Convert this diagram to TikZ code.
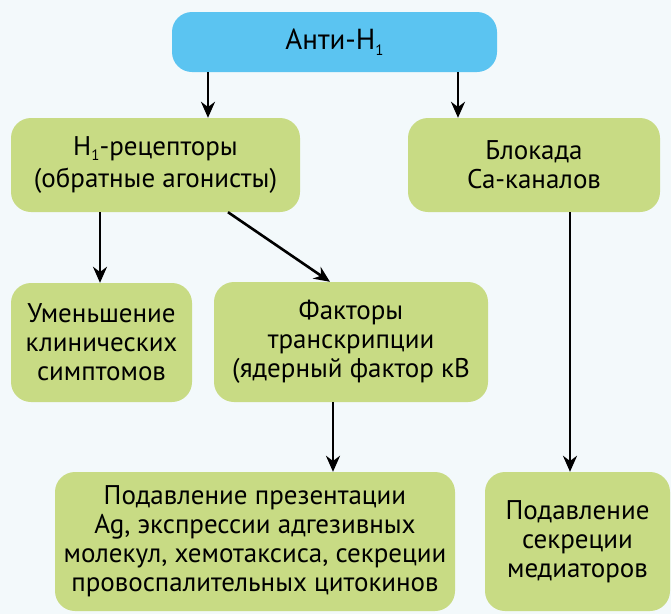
\documentclass[tikz,border=0pt]{standalone}
\usepackage{fontspec}
\setmainfont{PT Sans}
\usepackage{tikz}
\usetikzlibrary{arrows.meta, positioning, calc}

\definecolor{bgcol}{HTML}{F3F9FB}
\definecolor{skyblue}{HTML}{5BC4F1}
\definecolor{leafgreen}{HTML}{C8DB84}

\newcommand{\sub}[1]{\raisebox{-0.2em}{\fontsize{15}{15}\selectfont #1}}

\begin{document}
\begin{tikzpicture}[x=1pt, y=-1pt,
    box/.style={rounded corners=20pt, align=center, inner sep=0pt,
        font=\fontsize{27}{29}\selectfont},
    bluebox/.style={box, fill=skyblue, font=\fontsize{29}{30}\selectfont},
    greenbox/.style={box, fill=leafgreen},
    arr/.style={-{Stealth[length=16pt, width=14pt]}, line width=2.6pt}]

    % Background
    \fill[bgcol] (0,0) rectangle (671,614);
    \useasboundingbox (0,0) rectangle (671,614);

    % Top node
    \node[bluebox, minimum width=325pt, minimum height=60pt] (anti) at (334.5,42) {Анти-H\sub{1}};

    % Second row
    \node[greenbox, minimum width=289pt, minimum height=94pt] (hrec) at (155.5,165)
        {H\sub{1}-рецепторы\\[3pt](обратные агонисты)};
    \node[greenbox, minimum width=252pt, minimum height=94pt] (block) at (534,165)
        {Блокада\\Ca-каналов};

    % Third row
    \node[greenbox, minimum width=181pt, minimum height=119pt] (sympt) at (101.5,342.5)
        {Уменьшение\\клинических\\симптомов};
    \node[greenbox, minimum width=274pt, minimum height=120pt] (factor) at (351,342)
        {Факторы\\транскрипции\\(ядерный фактор кB};

    % Bottom row
    \node[greenbox, minimum width=400pt, minimum height=139pt] (supp) at (255,541.5)
        {Подавление презентации\\Ag, экспрессии адгезивных\\молекул, хемотаксиса, секреции\\провоспалительных цитокинов};
    \node[greenbox, minimum width=185pt, minimum height=139pt] (med) at (577.5,541.5)
        {Подавление\\секреции\\медиаторов};

    % Arrows
    \draw[arr] ([xshift=-126.5pt]anti.south) -- ([xshift=52.5pt]hrec.north);
    \draw[arr] ([xshift=123.5pt]anti.south) -- ([xshift=-76pt]block.north);
    \draw[arr] ([xshift=-55.5pt]hrec.south) -- ([xshift=-1.5pt]sympt.north);
    \draw[arr] ([xshift=72.5pt]hrec.south) -- ([xshift=-21pt]factor.north);
    \draw[arr] ([xshift=-18pt]factor.south) -- ([xshift=78pt]supp.north);
    \draw[arr] ([xshift=36pt]block.south) -- ([xshift=-7.5pt]med.north);
\end{tikzpicture}
\end{document}
